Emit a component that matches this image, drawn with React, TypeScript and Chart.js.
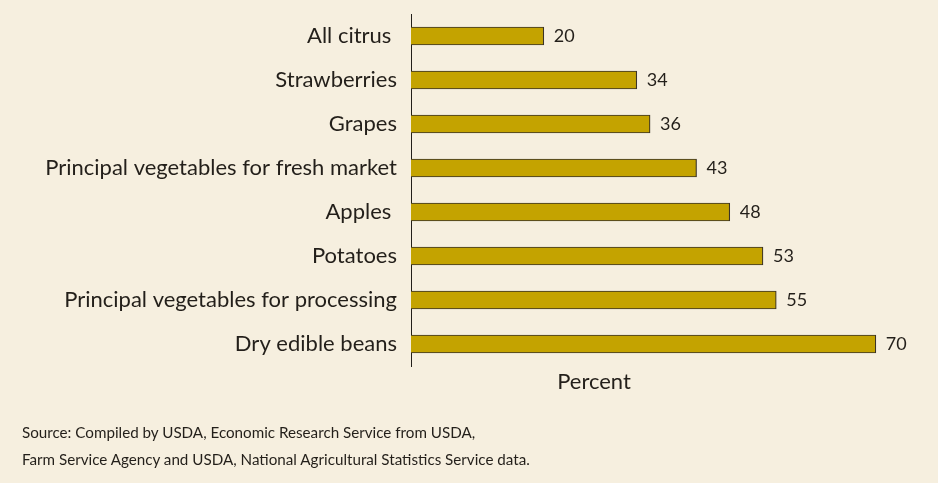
import React, { useEffect, useRef } from "react";
import { Chart, registerables } from "chart.js";

Chart.register(...registerables);

const categories = [
  "All citrus ",
  "Strawberries",
  "Grapes",
  "Principal vegetables for fresh market",
  "Apples ",
  "Potatoes",
  "Principal vegetables for processing",
  "Dry edible beans",
];
const values = [20, 34, 36, 43, 48, 53, 55, 70];
const axisTitle = "Percent";
const sourceLines = [
  "Source: Compiled by USDA, Economic Research Service from USDA,",
  "Farm Service Agency and USDA, National Agricultural Statistics Service data.",
];

const FONT = "Lato, 'Open Sans', sans-serif";
const BG = "#F6EFDF";
const BAR = "#C4A300";
const BORDER = "#3B3326";
const TEXT = "#231F1A";

const annotate = {
  id: "annotate",
  afterDatasetsDraw(chart: any) {
    const { ctx, chartArea } = chart;
    const meta = chart.getDatasetMeta(0);
    ctx.save();
    ctx.fillStyle = TEXT;
    ctx.font = `18px ${FONT}`;
    ctx.textAlign = "left";
    ctx.textBaseline = "middle";
    meta.data.forEach((bar: any, i: number) => {
      ctx.fillText(String(values[i]), bar.x + 10, bar.y);
    });
    ctx.font = `22px ${FONT}`;
    ctx.textAlign = "center";
    ctx.fillText(axisTitle, chartArea.left + 183, chartArea.bottom + 16);
    ctx.restore();
  },
};

export default function App() {
  const ref = useRef<HTMLCanvasElement>(null);
  useEffect(() => {
    document.body.style.margin = "0";
    const chart = new Chart(ref.current!, {
      type: "bar",
      data: {
        labels: categories,
        datasets: [
          {
            data: values,
            backgroundColor: BAR,
            borderColor: BORDER,
            borderWidth: 1.2,
            barThickness: 18,
          },
        ],
      },
      options: {
        indexAxis: "y",
        animation: false,
        responsive: false,
        layout: { padding: { top: 14, bottom: 117, right: 9, left: 0 } },
        plugins: { legend: { display: false }, tooltip: { enabled: false } },
        scales: {
          x: { display: false, min: 0, max: 78 },
          y: {
            afterFit: (scale: any) => {
              scale.width = 411;
              scale.paddingTop = 0;
              scale.paddingBottom = 0;
            },
            grid: { display: false },
            border: { display: true, color: TEXT, width: 1 },
            ticks: {
              color: TEXT,
              padding: 6,
              font: { family: FONT, size: 22 },
            },
          },
        },
      },
      plugins: [annotate],
    });
    return () => chart.destroy();
  }, []);
  return (
    <div
      style={{
        position: "fixed",
        left: 0,
        top: 0,
        width: 938,
        height: 483,
        background: BG,
        overflow: "hidden",
      }}
    >
      <canvas ref={ref} width={938} height={483} style={{ display: "block" }} />
      <div
        style={{
          position: "absolute",
          left: 22,
          top: 419,
          fontFamily: FONT,
          fontSize: 15.2,
          lineHeight: "27px",
          color: TEXT,
        }}
      >
        {sourceLines.map((l) => (
          <div key={l}>{l}</div>
        ))}
      </div>
    </div>
  );
}
